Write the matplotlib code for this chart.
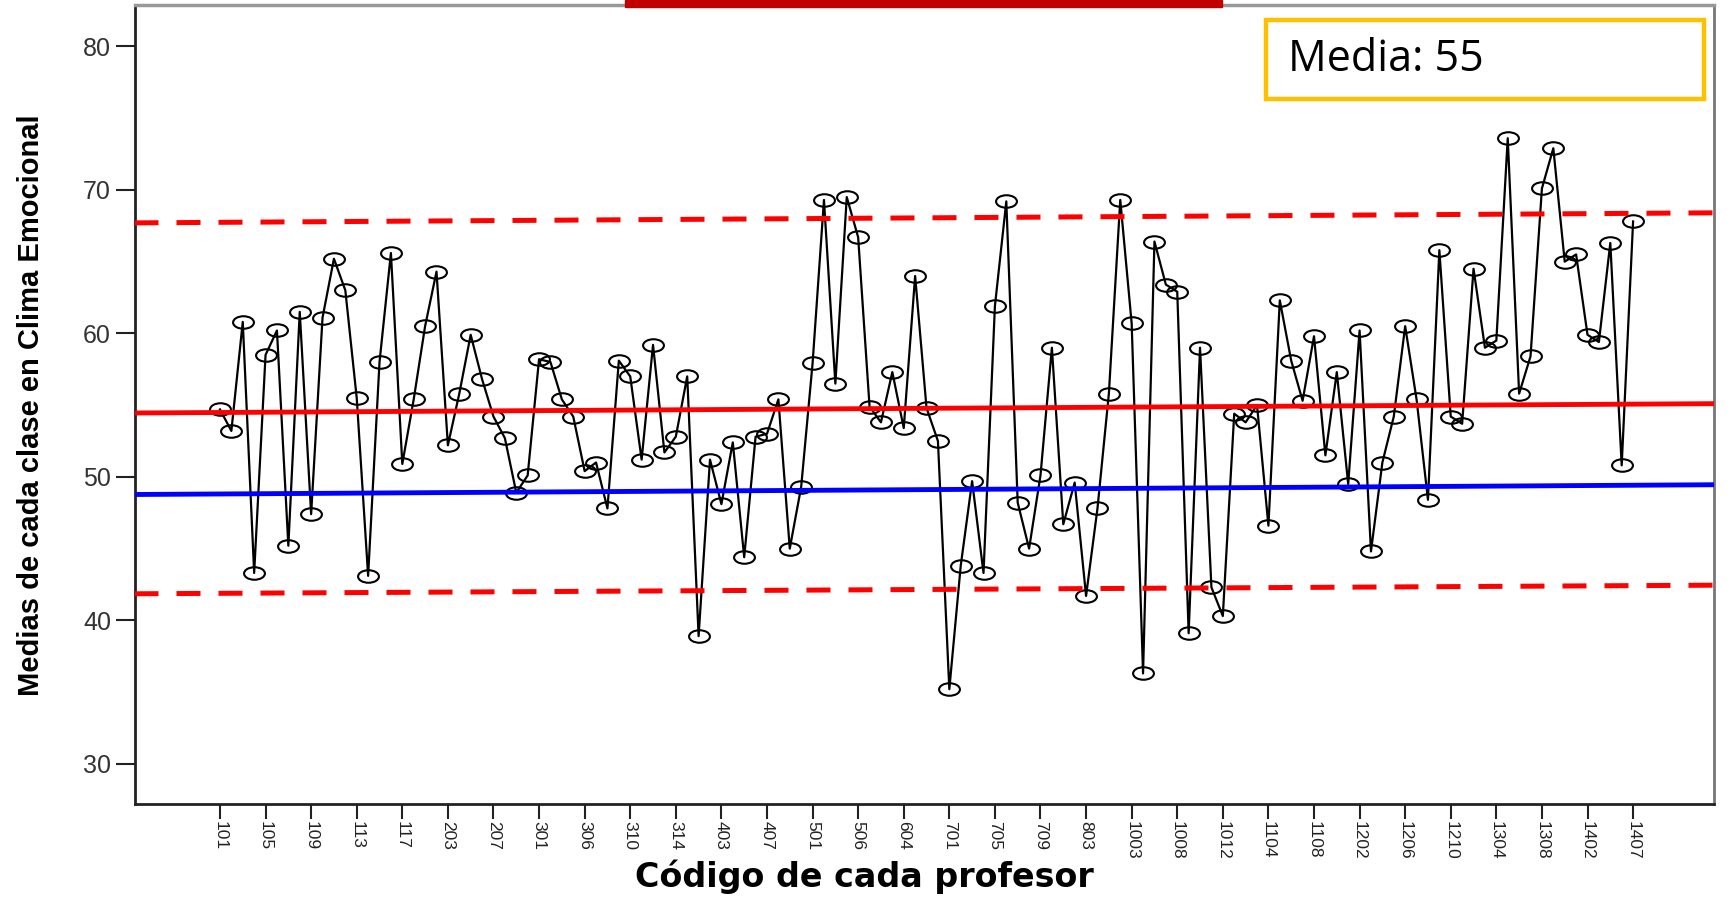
import numpy as np
import matplotlib
matplotlib.use('Agg')
import matplotlib.pyplot as plt
from matplotlib.path import Path
from matplotlib.patches import Rectangle

# Medias de cada clase (one value per profesor, in plot order)
medias = [54.7, 53.2, 60.8, 43.3, 58.5, 60.2, 45.2, 61.5, 47.4, 61.1,
          65.2, 63.0, 55.5, 43.1, 58.0, 65.6, 50.9, 55.4, 60.5, 64.3,
          52.2, 55.8, 59.9, 56.8, 54.2, 52.7, 48.9, 50.1, 58.2, 58.0,
          55.4, 54.2, 50.4, 51.0, 47.8, 58.1, 57.0, 51.2, 59.2, 51.7,
          52.8, 57.0, 38.9, 51.2, 48.1, 52.4, 44.4, 52.8, 53.0, 55.4,
          45.0, 49.3, 57.9, 69.3, 56.5, 69.5, 66.7, 54.9, 53.8, 57.3,
          53.4, 64.0, 54.8, 52.5, 35.2, 43.8, 49.7, 43.3, 61.9, 69.2,
          48.2, 45.0, 50.1, 59.0, 46.7, 49.6, 41.7, 47.8, 55.8, 69.3,
          60.7, 36.3, 66.4, 63.4, 62.9, 39.1, 59.0, 42.3, 40.3, 54.4,
          53.8, 55.0, 46.6, 62.3, 58.1, 55.3, 59.8, 51.5, 57.3, 49.5,
          60.2, 44.8, 51.0, 54.2, 60.5, 55.4, 48.4, 65.8, 54.2, 53.7,
          64.5, 59.0, 59.5, 73.6, 55.8, 58.4, 70.1, 72.9, 65.0, 65.5,
          59.9, 59.4, 66.3, 50.8, 67.8]

# codes shown on the x axis (every 4th profesor)
tick_labels = ['101', '105', '109', '113', '117', '203', '207', '301', '306',
               '310', '314', '403', '407', '501', '506', '604', '701', '705',
               '709', '803', '1003', '1008', '1012', '1104', '1108', '1202',
               '1206', '1210', '1304', '1308', '1402', '1407']
tick_step = 4

# reference lines: value at left edge, value at right edge
linea_media = [54.45, 55.1]
linea_azul = [48.77, 49.45]
limite_sup = [67.7, 68.4]
limite_inf = [41.85, 42.45]

W, H = 1729, 921
fig = plt.figure(figsize=(W / 100, H / 100), dpi=100)
ax = fig.add_axes([134.5 / W, 1 - 804 / H, (1714 - 134.5) / W, (804 - 5.5) / H])

# elliptical open marker, like the SPSS one
circ = Path.unit_circle()
ellipse = Path(circ.vertices * np.array([1.0, 0.6]), circ.codes)

x = np.arange(len(medias))
ax.plot(x, medias, color='black', lw=1.6, marker=ellipse, ms=15,
        mfc='none', mec='black', mew=1.5, zorder=2)

# horizontal guide lines across the whole plot
tr = ax.get_yaxis_transform()
ax.plot([0, 1], linea_media, color='#FF0000', lw=3.5, transform=tr, zorder=3)
ax.plot([0, 1], linea_azul, color='#0000FF', lw=3.5, transform=tr, zorder=3)
for lim in (limite_sup, limite_inf):
    ax.plot([0, 1], lim, color='#FF0000', lw=3.6, dashes=(4.8, 3.6),
            transform=tr, zorder=3)

ax.set_xlim(-7.5, 131.1)
ax.set_ylim(27.2, 82.85)
ax.set_yticks([30, 40, 50, 60, 70, 80])
ax.set_xticks(x[::tick_step])
ax.set_xticklabels(tick_labels, rotation=-90, family='Liberation Sans',
                   fontsize=12.5, color='#222222')
ax.tick_params(axis='y', length=14, width=1.5, pad=3, labelsize=18,
               labelcolor='#333333', color='#222222')
ax.tick_params(axis='x', length=11, width=1.5, pad=1.5, color='#222222')
for t in ax.get_yticklabels():
    t.set_family('Liberation Sans')

for s in ('left', 'bottom'):
    ax.spines[s].set_linewidth(2.0)
    ax.spines[s].set_color('#222222')
ax.spines['top'].set_color('#999999')
ax.spines['top'].set_linewidth(2.5)
ax.spines['right'].set_color('#777777')
ax.spines['right'].set_linewidth(2.0)

ax.set_ylabel('Medias de cada clase en Clima Emocional', fontsize=21,
              fontweight='bold', family='Liberation Sans')
ax.yaxis.set_label_coords((31 - 134.5) / (1714 - 134.5), 0.5)
ax.yaxis.label.set_va('center')

ax.set_xlabel('Código de cada profesor', fontsize=24, fontweight='bold',
              family='DejaVu Sans')
ax.xaxis.set_label_coords(0.5, 1 - 877 / H, transform=fig.transFigure)
ax.xaxis.label.set_va('center')

# dark red bar at the top of the slide
fig.patches.append(Rectangle((625 / W, 1 - 7 / H), (1222 - 625) / W, 7 / H,
                             transform=fig.transFigure, color='#C00000',
                             zorder=5))

# "Media" box
fig.patches.append(Rectangle((1266 / W, 1 - 99 / H), 438 / W, 79 / H,
                             transform=fig.transFigure, facecolor='white',
                             edgecolor='#FFC000', lw=3.2, zorder=5))
fig.text(1288 / W, 1 - 60 / H, 'Media: 55', fontsize=31, family='Open Sans',
         va='center', ha='left', color='black', zorder=6)

fig.savefig('out.png', dpi=100)
